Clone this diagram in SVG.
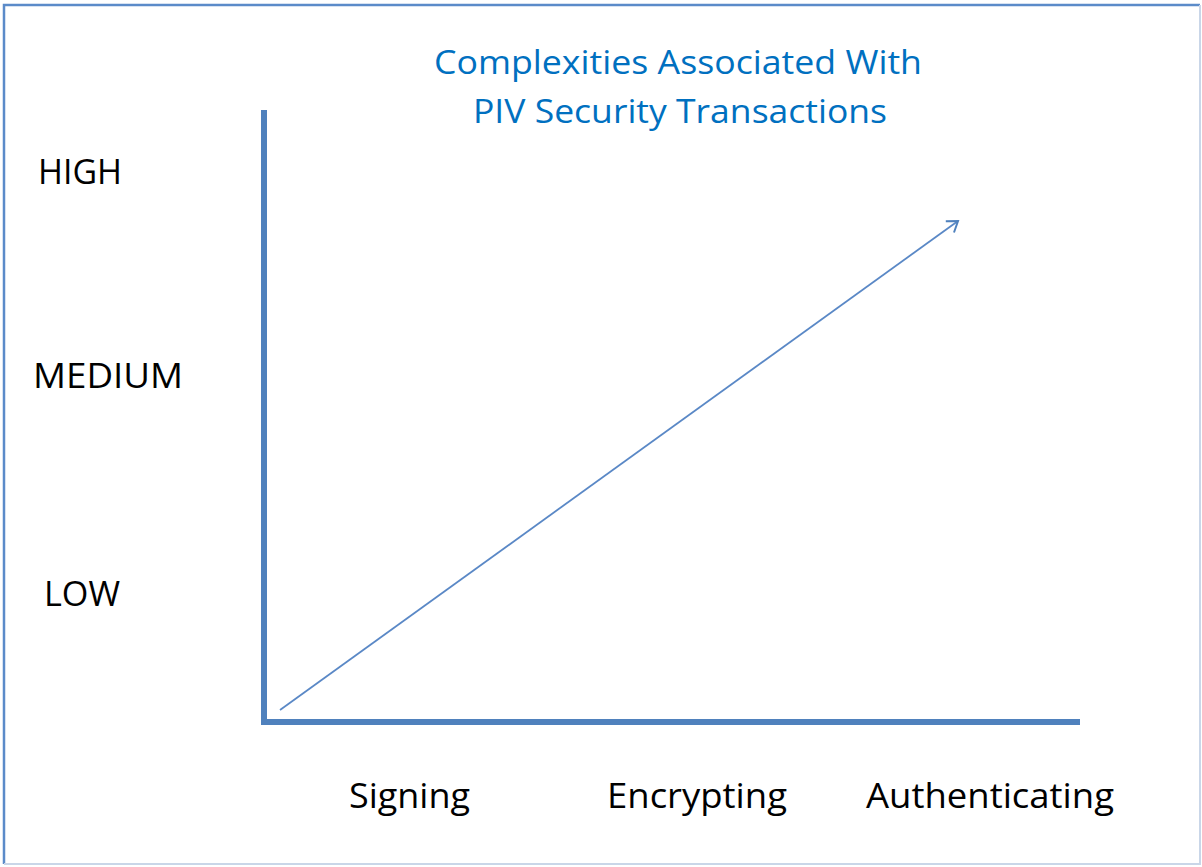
<svg xmlns="http://www.w3.org/2000/svg" width="1202" height="867" viewBox="0 0 1202 867">
<style>
.lbl{font-family:"Open Sans","Liberation Sans",sans-serif;font-size:34px;fill:#000}
.ttl{font-family:"Open Sans","Liberation Sans",sans-serif;font-size:32px;fill:#0070C0;text-anchor:middle}
.axis{stroke:#4F81BD;stroke-width:6;fill:none}
</style>
<defs>
<marker id="open" markerWidth="16" markerHeight="16" refX="12" refY="8" orient="auto" markerUnits="userSpaceOnUse">
<path d="M2,1 L12,8 L2,15" fill="none" stroke="#4F81BD" stroke-width="2"/>
</marker>
</defs>
<rect x="0" y="0" width="1202" height="867" fill="#fff"/>
<path d="M4,864 L4,5 L1200,5" fill="none" stroke="#5B8BC9" stroke-width="2.5"/>
<path d="M1200,5 L1200,864 L4,864" fill="none" stroke="#C9D6E8" stroke-width="2"/>
<g id="title">
<text class="ttl" x="678" y="74" textLength="488" lengthAdjust="spacingAndGlyphs">Complexities Associated With</text>
<text class="ttl" x="680" y="123" textLength="414" lengthAdjust="spacingAndGlyphs">PIV Security Transactions</text>
</g>
<g id="y-labels">
<text id="high" class="lbl" x="38" y="184" textLength="84" lengthAdjust="spacingAndGlyphs">HIGH</text>
<text id="medium" class="lbl" x="33" y="388" textLength="150" lengthAdjust="spacingAndGlyphs">MEDIUM</text>
<text id="low" class="lbl" x="44" y="606" textLength="76" lengthAdjust="spacingAndGlyphs">LOW</text>
</g>
<g id="x-labels">
<text id="signing" class="lbl" x="349" y="808" textLength="121" lengthAdjust="spacingAndGlyphs">Signing</text>
<text id="encrypting" class="lbl" x="607" y="808" textLength="180" lengthAdjust="spacingAndGlyphs">Encrypting</text>
<text id="authenticating" class="lbl" x="866" y="808" textLength="248" lengthAdjust="spacingAndGlyphs">Authenticating</text>
</g>
<g id="connectors">
<path class="axis" d="M264,110 L264,722 L1080,722"/>
<line x1="280" y1="710" x2="958" y2="221" stroke="#5A88C6" stroke-width="1.8" marker-end="url(#open)"/>
</g>
</svg>
